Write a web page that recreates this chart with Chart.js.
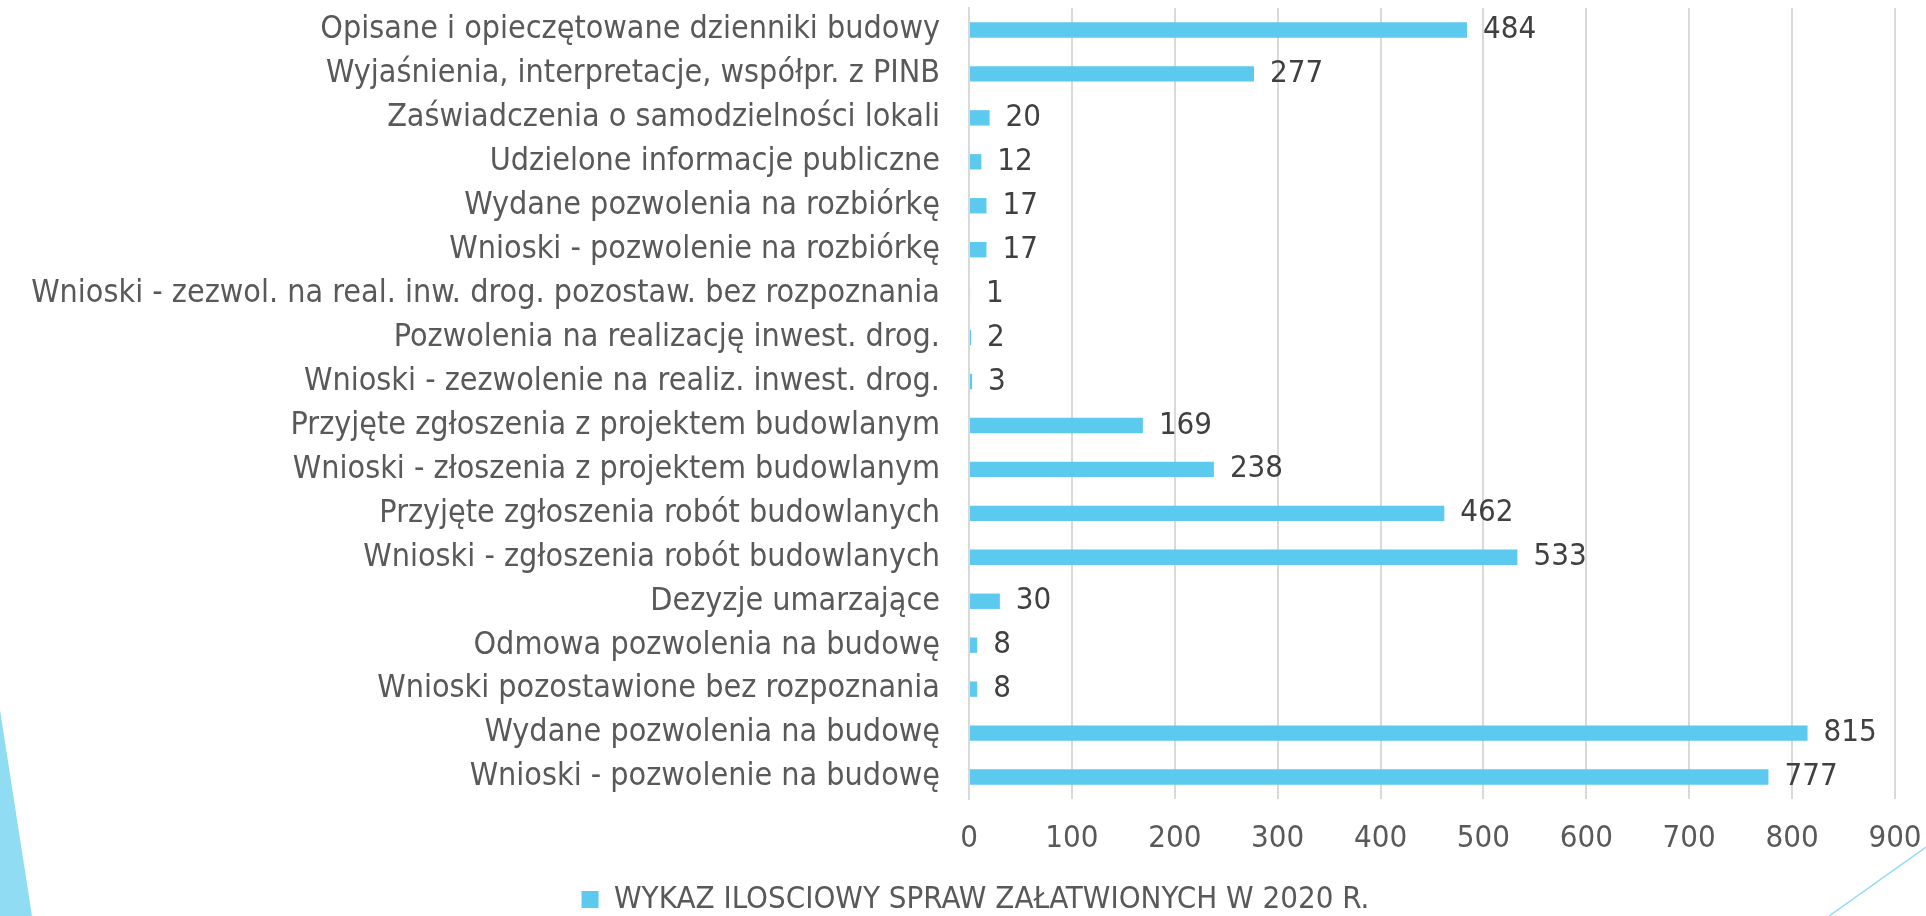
<!DOCTYPE html>
<html lang="pl">
<head>
<meta charset="utf-8">
<title>Wykaz ilościowy spraw załatwionych w 2020 r.</title>
<script src="https://cdn.jsdelivr.net/npm/chart.js@4/dist/chart.umd.min.js"></script>
<style>
  html, body { margin: 0; padding: 0; background: #fff; overflow: hidden; }
  #wrap { width: 1926px; height: 916px; position: relative; }
</style>
</head>
<body>
<div id="wrap"><canvas id="chart"></canvas></div>
<script>
const seriesName = 'WYKAZ ILOŚCIOWY SPRAW ZAŁATWIONYCH W 2020 R.';

const categories = [
  'Opisane i opieczętowane dzienniki budowy',
  'Wyjaśnienia, interpretacje, współpr. z PINB',
  'Zaświadczenia o samodzielności lokali',
  'Udzielone informacje publiczne',
  'Wydane pozwolenia na rozbiórkę',
  'Wnioski - pozwolenie na rozbiórkę',
  'Wnioski - zezwol. na real. inw. drog. pozostaw. bez rozpoznania',
  'Pozwolenia na realizację inwest. drog.',
  'Wnioski - zezwolenie na realiz. inwest. drog.',
  'Przyjęte zgłoszenia z projektem budowlanym',
  'Wnioski - złoszenia z projektem budowlanym',
  'Przyjęte zgłoszenia robót budowlanych',
  'Wnioski - zgłoszenia robót budowlanych',
  'Dezyzje umarzające',
  'Odmowa pozwolenia na budowę',
  'Wnioski pozostawione bez rozpoznania',
  'Wydane pozwolenia na budowę',
  'Wnioski - pozwolenie na budowę'
];

const values = [484, 277, 20, 12, 17, 17, 1, 2, 3, 169, 238, 462, 533, 30, 8, 8, 815, 777];

const xTicks = [0, 100, 200, 300, 400, 500, 600, 700, 800, 900];

const FONT = '"DejaVu Sans Condensed", "Liberation Sans Narrow", sans-serif';
const BAR_COLOR = '#5BCAEE';
const DECOR_COLOR = '#8FDCF3';

// slide decoration: triangle bottom-left, thin line bottom-right
const slideDecor = {
  id: 'slideDecor',
  beforeDraw(chart) {
    const ctx = chart.ctx;
    const w = chart.width, h = chart.height;
    ctx.save();
    ctx.fillStyle = DECOR_COLOR;
    ctx.beginPath();
    ctx.moveTo(0, 710);
    ctx.lineTo(32, h);
    ctx.lineTo(0, h);
    ctx.closePath();
    ctx.fill();
    ctx.strokeStyle = DECOR_COLOR;
    ctx.lineWidth = 1.5;
    ctx.beginPath();
    ctx.moveTo(1829, h);
    ctx.lineTo(w, 847);
    ctx.stroke();
    ctx.restore();
  }
};

// numbers at the end of each bar
const valueLabels = {
  id: 'valueLabels',
  afterDatasetsDraw(chart) {
    const ctx = chart.ctx;
    const meta = chart.getDatasetMeta(0);
    ctx.save();
    ctx.font = '31px ' + FONT;
    ctx.fillStyle = '#404040';
    ctx.textAlign = 'left';
    ctx.textBaseline = 'middle';
    meta.data.forEach((bar, i) => {
      ctx.fillText(String(values[i]), bar.x + 16, bar.y);
    });
    ctx.restore();
  }
};

// legend in the slide sits a bit right of the canvas centre
const legendShift = {
  id: 'legendShift',
  afterLayout(chart) {
    if (!chart.legend) return;
    chart.legend.left += 28;
    chart.legend.right += 28;
  }
};

const ctx = document.getElementById('chart').getContext('2d');

new Chart(ctx, {
  type: 'bar',
  data: {
    labels: categories,
    datasets: [{
      label: seriesName,
      data: values,
      backgroundColor: BAR_COLOR,
      borderWidth: 0,
      categoryPercentage: 1,
      barPercentage: 0.35
    }]
  },
  options: {
    indexAxis: 'y',
    responsive: true,
    maintainAspectRatio: false,
    animation: false,
    layout: {
      padding: { left: 0, right: 31, top: 8, bottom: -9 }
    },
    scales: {
      x: {
        min: 0,
        max: 900,
        afterBuildTicks: scale => { scale.ticks = xTicks.map(v => ({ value: v })); },
        afterFit: scale => {
          scale.height = 85;
          scale.paddingLeft = 0;
          scale.paddingRight = 0;
        },
        grid: { color: '#D9D9D9', lineWidth: 2, drawTicks: false },
        border: { display: false },
        ticks: {
          padding: 21,
          color: '#595959',
          font: { family: FONT, size: 31 }
        }
      },
      y: {
        afterFit: scale => {
          scale.width = 969;
          scale.paddingTop = 0;
          scale.paddingBottom = 0;
        },
        grid: { display: false, drawTicks: false },
        border: { display: true, color: '#D9D9D9', width: 2 },
        ticks: {
          padding: 29,
          autoSkip: false,
          color: '#595959',
          font: { family: FONT, size: 32 }
        }
      }
    },
    plugins: {
      legend: {
        position: 'bottom',
        labels: {
          boxWidth: 17,
          boxHeight: 17,
          padding: 0,
          color: '#595959',
          font: { family: FONT, size: 31 }
        }
      },
      tooltip: { enabled: false }
    }
  },
  plugins: [slideDecor, valueLabels, legendShift]
});
</script>
</body>
</html>
